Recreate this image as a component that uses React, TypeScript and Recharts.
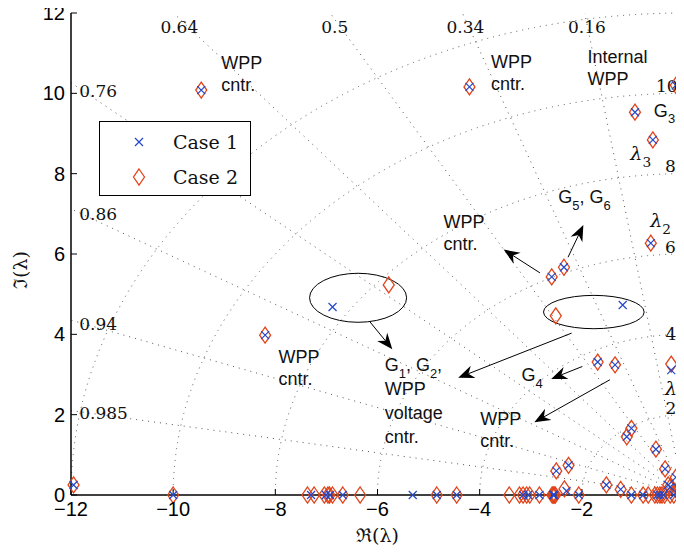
import React from 'react'
import { ScatterChart, Scatter, XAxis, YAxis, ReferenceLine, ReferenceDot, ReferenceArea, Legend } from 'recharts'

const case1Complex: [number, number][] = [
  [-11.95, 0.25], [-9.45, 10.08], [-4.2, 10.16], [-0.16, 10.2], [-0.96, 9.53], [-0.61, 8.84],
  [-0.65, 6.27], [-2.59, 5.43], [-2.35, 5.67], [-6.88, 4.68], [-1.2, 4.73], [-8.2, 3.98],
  [-1.69, 3.31], [-1.35, 3.24], [-0.25, 3.11], [-1.03, 1.66], [-1.12, 1.45], [-0.55, 1.14],
  [-0.37, 0.65], [-0.16, 0.44], [-2.26, 0.74], [-2.5, 0.6], [-1.52, 0.25], [-1.24, 0.14],
  [-2.3, 0.1], [-0.31, 0.25], [-0.27, 0.2], [-0.11, 0.17],
]
const case1Real = [
  -10.0, -7.3, -7.01, -6.93, -6.68, -5.31, -4.84, -4.45, -3.15, -3.05, -2.83, -2.56, -2.55,
  -2.54, -2.06, -1.03, -0.8, -0.52, -0.47, -0.4, -0.2, -0.08,
]

const case2Complex: [number, number][] = [
  [-11.95, 0.25], [-9.45, 10.08], [-4.2, 10.16], [-0.16, 10.2], [-0.96, 9.53], [-0.61, 8.84],
  [-0.65, 6.27], [-2.59, 5.43], [-2.35, 5.67], [-5.78, 5.23], [-2.51, 4.46], [-8.2, 3.98],
  [-1.69, 3.31], [-1.35, 3.24], [-0.25, 3.26], [-1.03, 1.66], [-1.12, 1.45], [-0.55, 1.14],
  [-0.37, 0.65], [-0.16, 0.44], [-2.26, 0.74], [-2.5, 0.6], [-1.52, 0.25], [-1.24, 0.14],
  [-2.34, 0.15], [-0.31, 0.25], [-0.27, 0.2], [-0.11, 0.17],
]
const case2Real = [
  -10.0, -7.37, -7.24, -7.04, -6.97, -6.94, -6.88, -6.68, -6.34, -4.84, -4.45, -3.42, -3.22,
  -3.15, -3.08, -3.02, -2.83, -2.58, -2.56, -2.54, -2.52, -2.06, -1.03, -0.8, -0.7, -0.57,
  -0.52, -0.47, -0.43, -0.38, -0.27, -0.2, -0.08, -0.02,
]

const seriesNames = ['Case 1', 'Case 2']
const xTicks = [-12, -10, -8, -6, -4, -2, 0]
const yTicks = [0, 2, 4, 6, 8, 10, 12]

// pzmap grid
const dampingRatios = [0.16, 0.34, 0.5, 0.64, 0.76, 0.86, 0.94, 0.985]
const natFreqs = [2, 4, 6, 8, 10, 12]
const dampingLabels = ['0.64', '0.5', '0.34', '0.16', '0.76', '0.86', '0.94', '0.985']
const freqLabels = ['10', '8', '6', '4', '2']

const BLUE = '#2347c9'
const RED = '#e0441a'
const SANS = 'Liberation Sans, Arial, Helvetica, sans-serif'
const SERIF = 'DejaVu Serif, Liberation Serif, serif'
const GRID = { stroke: '#555', strokeWidth: 1, strokeDasharray: '1 5' }

const toPts = (cplx: [number, number][], real: number[]) => [
  ...cplx.map(([x, y]) => ({ x, y })),
  ...real.map((x) => ({ x, y: 0 })),
]
const case1 = toPts(case1Complex, case1Real)
const case2 = toPts(case2Complex, case2Real)

const XMark = ({ cx, cy }: any) => (
  <path d={`M${cx - 4},${cy - 4}L${cx + 4},${cy + 4}M${cx - 4},${cy + 4}L${cx + 4},${cy - 4}`}
    stroke={BLUE} strokeWidth={1.2} fill="none" />
)
const Diamond = ({ cx, cy }: any) => (
  <path d={`M${cx},${cy - 8}L${cx + 5.5},${cy}L${cx},${cy + 8}L${cx - 5.5},${cy}Z`}
    stroke={RED} strokeWidth={1.3} fill="none" />
)

// "G_1" -> G with subscript 1
const parse = (s: string) =>
  s.split(/(_\d)/).filter(Boolean).map((t) => (t[0] === '_' ? { t: t.slice(1), sub: true } : { t, sub: false }))

type TextOpts = { size: number; family: string; lh?: number; italic?: boolean }
const textShape = (lines: string[], o: TextOpts) => (p: any) => (
  <g>
    {lines.map((ln, i) => {
      const segs = parse(ln)
      const sh = o.size * 0.38
      return (
        <text key={i} x={p.cx} y={p.cy + i * (o.lh ?? 0)} fontSize={o.size} fontFamily={o.family}
          fontStyle={o.italic ? 'italic' : 'normal'} fill="#111">
          {segs.map((s, j) =>
            s.sub ? (
              <tspan key={j} fontSize={o.size * 0.72} fontStyle="normal" dy={sh}>{s.t}</tspan>
            ) : (
              <tspan key={j} dy={j > 0 && segs[j - 1].sub ? -sh : 0}>{s.t}</tspan>
            ),
          )}
        </text>
      )
    })}
  </g>
)

const arrowShape = (p: any) => {
  const { x1, y1, x2, y2 } = p
  const a = Math.atan2(y2 - y1, x2 - x1)
  const ux = Math.cos(a), uy = Math.sin(a)
  const L = 16, W = 6.5, B = 11
  const bx = x2 - ux * L, by = y2 - uy * L
  const mx = x2 - ux * B, my = y2 - uy * B
  return (
    <g>
      <line x1={x1} y1={y1} x2={mx} y2={my} stroke="#000" strokeWidth={1} />
      <path d={`M${x2},${y2}L${bx - uy * W},${by + ux * W}L${mx},${my}L${bx + uy * W},${by - ux * W}Z`} fill="#000" />
    </g>
  )
}

const ellipseShape = (p: any) => (
  <ellipse cx={p.x + p.width / 2} cy={p.y + p.height / 2} rx={Math.abs(p.width) / 2} ry={Math.abs(p.height) / 2}
    fill="none" stroke="#000" strokeWidth={1} />
)

// quarter circle of the frequency grid, drawn in the box (-r,0)-(0,r)
const arcShape = (p: any) => (
  <path d={`M${p.x + p.width},${p.y}A${p.width},${p.height} 0 0 0 ${p.x},${p.y + p.height}`} fill="none" {...GRID} />
)

const rayEnd = (z: number) => {
  const s = Math.sqrt(1 - z * z)
  const t = Math.min(12 / z, 12 / s)
  return { x: -z * t, y: s * t }
}

// annotation placement (data coords of first baseline)
const dampingPos = [
  [-10.25, 11.5], [-7.1, 11.5], [-4.65, 11.5], [-2.27, 11.5],
  [-11.84, 9.92], [-11.84, 6.85], [-11.84, 4.1], [-11.84, 1.9],
]
const freqPos = [[-0.55, 10.03], [-0.37, 8.03], [-0.37, 6.02], [-0.36, 3.86], [-0.36, 2.02]]

const notes: { x: number; y: number; lines: string[]; lh?: number; lam?: boolean }[] = [
  { x: -9.06, y: 10.6, lines: ['WPP', 'cntr.'] },
  { x: -3.78, y: 10.62, lines: ['WPP', 'cntr.'] },
  { x: -1.89, y: 10.76, lines: ['Internal', 'WPP'] },
  { x: -0.59, y: 9.42, lines: ['G_3'] },
  { x: -2.46, y: 7.26, lines: ['G_5, G_6'] },
  { x: -4.71, y: 6.64, lines: ['WPP', 'cntr.'] },
  { x: -7.94, y: 3.29, lines: ['WPP', 'cntr.'] },
  { x: -5.86, y: 3.09, lines: ['G_1, G_2,', 'WPP', 'voltage', 'cntr.'], lh: 24 },
  { x: -3.18, y: 2.84, lines: ['G_4'] },
  { x: -3.99, y: 1.74, lines: ['WPP', 'cntr.'] },
  { x: -1.05, y: 8.34, lines: ['λ_3'], lam: true },
  { x: -0.66, y: 6.68, lines: ['λ_2'], lam: true },
  { x: -0.37, y: 2.49, lines: ['λ_1'], lam: true },
]

const ellipses = [
  { x1: -7.33, x2: -5.43, y1: 4.3, y2: 5.52 },
  { x1: -2.75, x2: -0.78, y1: 4.14, y2: 4.97 },
]

const arrows = [
  [[-6.16, 4.33], [-5.71, 3.63]],
  [[-2.2, 4.03], [-4.42, 2.92]],
  [[-1.99, 3.2], [-2.6, 2.89]],
  [[-1.45, 2.87], [-2.93, 1.81]],
  [[-2.82, 5.53], [-3.53, 6.11]],
  [[-2.27, 5.92], [-1.97, 6.72]],
]

const LegendBox = () => (
  <div style={{ width: 150, height: 73, border: '1px solid #000', background: '#fff' }}>
    <svg width={150} height={73}>
      <XMark cx={39} cy={20} />
      <Diamond cx={39} cy={55} />
      <text x={73} y={27} fontSize={19} fontFamily={SERIF} fill="#111">{seriesNames[0]}</text>
      <text x={73} y={62} fontSize={19} fontFamily={SERIF} fill="#111">{seriesNames[1]}</text>
    </svg>
  </div>
)

const fmt = (v: number) => (v < 0 ? `\u2212${Math.abs(v)}` : String(v))

export default function App() {
  return (
    <div style={{ width: 676, height: 546, marginTop: -8, overflow: 'hidden' }}>
      <ScatterChart width={720} height={546} margin={{ top: 13, right: 44, bottom: 21, left: 13 }}>
        <XAxis dataKey="x" type="number" domain={[-12, 0]} ticks={xTicks} interval={0}
          tickFormatter={fmt} height={30} tickSize={-6} tickMargin={13}
          tick={{ fill: '#000', fontSize: 20, fontFamily: SANS }}
          axisLine={{ stroke: '#000', strokeWidth: 1.5 }} tickLine={{ stroke: '#000' }}
          label={{
            content: (p: any) => (
              <text x={p.viewBox.x + p.viewBox.width / 2} y={p.viewBox.y + 47} textAnchor="middle"
                fontSize={19} fontFamily={SERIF} fill="#111">ℜ(λ)</text>
            ),
          }} />
        <XAxis xAxisId="top" orientation="top" type="number" domain={[-12, 0]} ticks={xTicks} interval={0}
          allowDataOverflow height={0} tick={false} tickSize={-6}
          axisLine={{ stroke: '#000', strokeWidth: 1 }} tickLine={{ stroke: '#000' }} />
        <YAxis dataKey="y" type="number" domain={[0, 12]} ticks={yTicks} interval={0}
          width={50} tickSize={-6} tickMargin={12}
          tick={{ fill: '#000', fontSize: 20, fontFamily: SANS }}
          axisLine={{ stroke: '#000', strokeWidth: 1.5 }} tickLine={{ stroke: '#000' }}
          label={{
            content: (p: any) => {
              const cx = p.viewBox.x - 1
              const cy = p.viewBox.y + p.viewBox.height / 2 + 16
              return (
                <text x={cx} y={cy} transform={`rotate(-90, ${cx}, ${cy})`} textAnchor="middle"
                  dominantBaseline="central" fontSize={19} fontFamily={SERIF} fill="#111">ℑ(λ)</text>
              )
            },
          }} />

        {natFreqs.map((r) => (
          <ReferenceArea key={`c${r}`} x1={-r} x2={0} y1={0} y2={r} shape={arcShape} />
        ))}
        {dampingRatios.map((z) => (
          <ReferenceLine key={`z${z}`} segment={[{ x: 0, y: 0 }, rayEnd(z)]} ifOverflow="hidden" {...GRID} />
        ))}
        {dampingLabels.map((t, i) => (
          <ReferenceDot key={`dl${t}`} x={dampingPos[i][0]} y={dampingPos[i][1]}
            shape={textShape([t], { size: 17, family: SERIF })} />
        ))}
        {freqLabels.map((t, i) => (
          <ReferenceDot key={`fl${t}`} x={freqPos[i][0]} y={freqPos[i][1]}
            shape={textShape([t], { size: 17, family: SERIF })} />
        ))}

        {ellipses.map((e, i) => (
          <ReferenceArea key={`e${i}`} {...e} shape={ellipseShape} />
        ))}
        {arrows.map((a, i) => (
          <ReferenceLine key={`a${i}`} ifOverflow="visible"
            segment={[{ x: a[0][0], y: a[0][1] }, { x: a[1][0], y: a[1][1] }]} shape={arrowShape} />
        ))}
        {notes.map((n, i) => (
          <ReferenceDot key={`n${i}`} x={n.x} y={n.y}
            shape={textShape(n.lines, n.lam
              ? { size: 19, family: SERIF, italic: true }
              : { size: 18, family: SANS, lh: n.lh ?? 22 })} />
        ))}

        <Scatter name={seriesNames[1]} data={case2} isAnimationActive={false} shape={<Diamond />} />
        <Scatter name={seriesNames[0]} data={case1} isAnimationActive={false} shape={<XMark />} />

        <Legend layout="vertical" align="center" verticalAlign="middle" content={() => <LegendBox />}
          wrapperStyle={{ position: 'absolute', left: 91, top: 121, width: 152, height: 75 }} />
      </ScatterChart>
    </div>
  )
}
